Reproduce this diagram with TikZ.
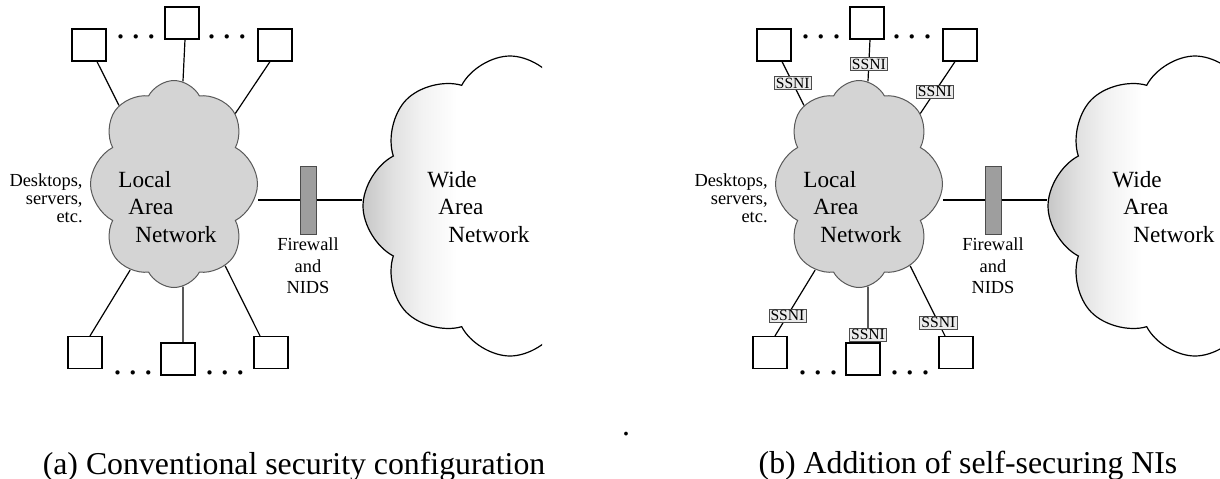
\documentclass[tikz,border=0pt]{standalone}
\usepackage{fontspec}
\setmainfont{Liberation Serif}
\usetikzlibrary{shapes.symbols}

% grey on the left edge of the wide area cloud, white further in
\pgfdeclarehorizontalshading{wanfade}{100bp}{color(0bp)=(black!24); color(25bp)=(black!22); color(30bp)=(black!12); color(35bp)=(black!5); color(41bp)=(white); color(100bp)=(white)}

\begin{document}
\begin{tikzpicture}[x=0.5pt, y=-0.5pt,
	wire/.style={line width=0.6pt},
	host/.style={draw, line width=0.6pt, fill=white, minimum width=17pt, minimum height=16pt, inner sep=0pt},
	ssni/.style={draw=black!70, line width=0.4pt, fill=black!8, font=\fontsize{7.8}{8}\selectfont, text height=5.1pt, text depth=0pt, inner xsep=0.8pt, inner ysep=0.7pt},
	fwbox/.style={draw=black!70, line width=0.5pt, fill=black!38, minimum width=8pt, minimum height=34pt, inner sep=0pt},
	lan/.style={cloud, cloud puffs=8, cloud puff arc=125, draw=black!65, line width=0.5pt, fill=black!17, minimum width=83.5pt, minimum height=103.5pt, inner sep=0pt},
	wan/.style={cloud, cloud puffs=8, cloud puff arc=125, draw, line width=0.6pt, shade, shading=wanfade, minimum width=147pt, minimum height=150pt, inner sep=0pt},
	nettext/.style={align=left, anchor=west, inner sep=0pt, font=\fontsize{11.6}{13.75}\selectfont},
	smalltext/.style={inner sep=0pt, font=\fontsize{9.2}{10.75}\selectfont},
	dotrow/.style={anchor=base, inner sep=0pt, font=\fontsize{18}{18}\selectfont},
	captiontext/.style={anchor=base, inner sep=0pt, font=\fontsize{15.9}{19}\selectfont}]

	% page has the size of the reference
	\useasboundingbox (0,0) rectangle (1220,478);

	%%% (a) conventional security configuration

	% local area network
	\node[lan] (lana) at (174,184) {};
	\node[nettext] (lantexta) at (118,207) {Local\\\hspace{5pt}Area\\\hspace{8.5pt}Network};

	% wide area network, cut off on the right
	\begin{scope}
		\clip (340,40) rectangle (542,380);
		\node[wan] (wana) at (510,206) {};
	\end{scope}
	\node[nettext] (wantexta) at (427,207) {Wide\\\hspace{5.5pt}Area\\\hspace{10.5pt}Network};

	% firewall between them
	\node[fwbox] (fwa) at (308,200) {};
	\draw[wire] (lana.east |- fwa) -- (fwa) -- (fwa -| wana.west);
	\node[smalltext, align=center, anchor=north] (fwtexta) at (308,237.5) {Firewall\\and\\NIDS};

	% hosts round the lan
	\node[host] (tla) at (89,45) {};
	\node[host] (tma) at (182,23) {};
	\node[host] (tra) at (275,45) {};
	\node[host] (bla) at (85,352.5) {};
	\node[host] (bma) at (178,359) {};
	\node[host] (bra) at (271,352.5) {};
	\node[dotrow] (tdotsla) at (136,38) {.\hspace{3.25pt}.\hspace{3.25pt}.};
	\node[dotrow] (tdotsra) at (227,38) {.\hspace{3.25pt}.\hspace{3.25pt}.};
	\node[dotrow] (bdotsla) at (133,374) {.\hspace{3.25pt}.\hspace{3.25pt}.};
	\node[dotrow] (bdotsra) at (225,374) {.\hspace{3.25pt}.\hspace{3.25pt}.};
	\node[smalltext, align=right, anchor=east, font=\fontsize{9.2}{9}\selectfont] (hosttexta) at (83,198) {Desktops,\\servers,\\etc.};

	% host links
	\draw[wire] ([xshift=4pt]tla.south) -- (lana.125.5);
	\draw[wire] ([xshift=1.5pt]tma.south) -- (lana.85);
	\draw[wire] ([xshift=-2.5pt]tra.south) -- (lana.49.6);
	\draw[wire] ([xshift=2.5pt]bla.north) -- (lana.243);
	\draw[wire] ([xshift=2.5pt]bma.north) -- (lana.275);
	\draw[wire] ([xshift=-5.5pt]bra.north) -- (lana.302);

	\node[captiontext] (capa) at (294,474) {(a) Conventional security configuration};
	\node[captiontext] (stray) at (626,435) {.};

	%%% (b) with self-securing NIs

	% local area network
	\node[lan] (lanb) at (859,184) {};
	\node[nettext] (lantextb) at (803,207) {Local\\\hspace{5pt}Area\\\hspace{8.5pt}Network};

	% wide area network, cut off by the page
	\begin{scope}
		\clip (1025,40) rectangle (1227,380);
		\node[wan] (wanb) at (1195,206) {};
	\end{scope}
	\node[nettext] (wantextb) at (1112,207) {Wide\\\hspace{5.5pt}Area\\\hspace{10.5pt}Network};

	% firewall between them
	\node[fwbox] (fwb) at (993,200) {};
	\draw[wire] (lanb.east |- fwb) -- (fwb) -- (fwb -| wanb.west);
	\node[smalltext, align=center, anchor=north] (fwtextb) at (993,237.5) {Firewall\\and\\NIDS};

	% hosts round the lan
	\node[host] (tlb) at (774,45) {};
	\node[host] (tmb) at (867,23) {};
	\node[host] (trb) at (960,45) {};
	\node[host] (blb) at (770,352.5) {};
	\node[host] (bmb) at (863,359) {};
	\node[host] (brb) at (956,352.5) {};
	\node[dotrow] (tdotslb) at (821,38) {.\hspace{3.25pt}.\hspace{3.25pt}.};
	\node[dotrow] (tdotsrb) at (912,38) {.\hspace{3.25pt}.\hspace{3.25pt}.};
	\node[dotrow] (bdotslb) at (818,374) {.\hspace{3.25pt}.\hspace{3.25pt}.};
	\node[dotrow] (bdotsrb) at (910,374) {.\hspace{3.25pt}.\hspace{3.25pt}.};
	\node[smalltext, align=right, anchor=east, font=\fontsize{9.2}{9}\selectfont] (hosttextb) at (768,198) {Desktops,\\servers,\\etc.};

	% host links, each through an SSNI
	\draw[wire] ([xshift=4pt]tlb.south) -- node[ssni, pos=0.49] (ssnitl) {SSNI} (lanb.125.5);
	\draw[wire] ([xshift=1.5pt]tmb.south) -- node[ssni, pos=0.59] (ssnitm) {SSNI} (lanb.85);
	\draw[wire] ([xshift=-2.5pt]trb.south) -- node[ssni, pos=0.58] (ssnitr) {SSNI} (lanb.49.6);
	\draw[wire] ([xshift=2.5pt]blb.north) -- node[ssni, pos=0.31] (ssnibl) {SSNI} (lanb.243);
	\draw[wire] ([xshift=2.5pt]bmb.north) -- node[ssni, pos=0.14] (ssnibm) {SSNI} (lanb.275);
	\draw[wire] ([xshift=-5.5pt]brb.north) -- node[ssni, pos=0.19] (ssnibr) {SSNI} (lanb.302);

	\node[captiontext] (capb) at (968,473) {(b) Addition of self-securing NIs};

\end{tikzpicture}
\end{document}
